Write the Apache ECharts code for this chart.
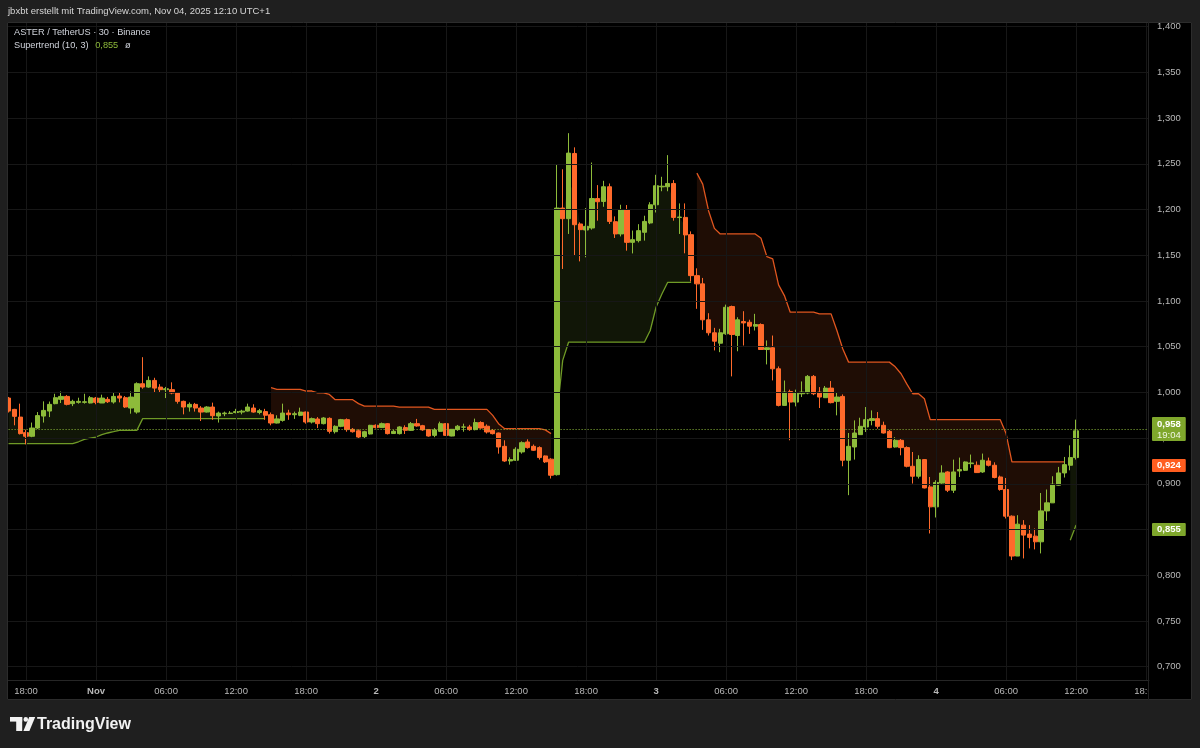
<!DOCTYPE html>
<html><head><meta charset="utf-8">
<script src="https://cdn.jsdelivr.net/npm/echarts@6/dist/echarts.min.js"></script>
<style>html,body{margin:0;padding:0;background:#1f1f1f}#c{width:1200px;height:748px}</style>
</head><body><div id="c"></div>
<script>
// ---------------- DATA ----------------
const startUTC = Date.UTC(2025, 9, 31, 16, 30); // first 30-min bar
const slotCount = 196; // bars incl. empty right margin
const openP = [
0.9938,0.9814,0.973,0.956,0.952,0.961,0.9741,0.9796,0.9877,0.9924,
0.9956,0.9877,0.9891,0.9891,0.9884,0.9938,0.9884,0.9924,0.9895,0.996,
0.9942,0.9829,0.9785,1.0095,1.0058,1.0131,1.0058,1.003,1.003,0.9993,
0.9902,0.984,0.9869,0.9829,0.9785,0.984,0.9742,0.9767,0.977,0.978,
0.9785,0.9796,0.9829,0.978,0.979,0.9756,0.9665,0.9694,0.9774,0.9756,
0.9749,0.9785,0.9676,0.9709,0.9658,0.9716,0.957,0.9629,0.9702,0.9596,
0.958,0.9516,0.9545,0.964,0.9615,0.9658,0.955,0.9549,0.9615,0.9585,
0.9658,0.9636,0.9593,0.953,0.9574,0.9658,0.9523,0.9593,0.962,0.9622,
0.9593,0.967,0.963,0.9585,0.9556,0.941,0.925,0.9258,0.9349,0.9458,
0.941,0.9396,0.9305,0.927,0.910,1.2016,1.190,1.2613,1.1842,1.1776,
1.1798,1.212,1.2088,1.2249,1.1867,1.1733,1.1995,1.1641,1.166,1.1751,
1.1853,1.2052,1.2248,1.2249,1.2285,1.1912,1.1914,1.1725,1.1277,1.1187,
1.0794,1.0652,1.0538,1.0641,1.0939,1.0622,1.0775,1.0767,1.0724,1.0742,
1.0469,1.0488,1.0258,0.9858,1.001,0.9894,0.9985,0.9993,1.0175,1.0003,
0.9942,1.0047,0.9902,0.9956,0.9258,0.9403,0.9538,0.9622,0.9694,0.9713,
0.964,0.9574,0.9403,0.9476,0.9396,0.9192,0.9083,0.9265,0.8966,0.8748,
0.9008,0.913,0.893,0.9141,0.9148,0.9221,0.9203,0.913,0.925,0.9203,
0.9075,0.8938,0.8646,0.821,0.8548,0.845,0.8428,0.8366,0.8704,0.8792,
0.8985,0.9119,0.9203,0.9287];
const closeP = [
0.9796,0.9738,0.9549,0.952,0.961,0.9746,0.9803,0.9869,0.9942,0.9956,
0.9869,0.9902,0.9902,0.9898,0.9942,0.9891,0.9938,0.9898,0.9956,0.9938,
0.984,0.9949,1.0095,1.0058,1.0131,1.0047,1.003,1.004,0.9993,0.9902,
0.984,0.9869,0.9829,0.9785,0.984,0.9745,0.9774,0.9774,0.9774,0.979,
0.9795,0.984,0.9785,0.980,0.975,0.9665,0.971,0.9774,0.9756,0.9767,
0.9785,0.9676,0.9713,0.9658,0.972,0.9574,0.9629,0.9702,0.9593,0.957,
0.9512,0.957,0.964,0.9615,0.9658,0.9549,0.9574,0.9622,0.9585,0.9658,
0.9633,0.959,0.9523,0.959,0.9658,0.953,0.9596,0.963,0.9622,0.9593,
0.967,0.961,0.9567,0.9549,0.9403,0.925,0.9265,0.9378,0.945,0.9396,
0.9367,0.9287,0.924,0.9094,1.2016,1.190,1.2617,1.1834,1.178,1.1816,
1.212,1.2085,1.2249,1.187,1.1733,1.1995,1.1641,1.167,1.1769,1.187,
1.2052,1.226,1.2255,1.2285,1.1914,1.1918,1.1722,1.1277,1.1187,1.0794,
1.0652,1.056,1.0652,1.0931,1.0633,1.0794,1.076,1.0724,1.0742,1.0469,
1.0488,1.0258,0.9858,1.0003,0.9894,0.9993,1.0003,1.0175,0.9985,0.9949,
1.0047,0.9888,0.9949,0.9258,0.941,0.9556,0.9629,0.9702,0.9713,0.9629,
0.9556,0.9396,0.9476,0.9396,0.9192,0.9083,0.9265,0.8955,0.8748,0.9015,
0.9119,0.893,0.913,0.9156,0.9239,0.9228,0.9123,0.9258,0.9203,0.9069,
0.8938,0.8646,0.821,0.8559,0.8439,0.8414,0.8366,0.8704,0.8792,0.8996,
0.9119,0.921,0.9287,0.958];
const lowP = [
0.978,0.964,0.954,0.9432,0.951,0.960,0.967,0.973,0.987,0.9884,
0.9858,0.985,0.9877,0.9877,0.988,0.987,0.9884,0.9884,0.9877,0.9891,
0.983,0.9767,0.9767,1.004,1.005,1.0003,1.000,0.9938,0.998,0.9877,
0.976,0.979,0.979,0.9687,0.978,0.970,0.967,0.974,0.9765,0.977,
0.976,0.979,0.9778,0.976,0.970,0.964,0.966,0.968,0.970,0.971,
0.974,0.9658,0.966,0.961,0.965,0.955,0.955,0.962,0.957,0.956,
0.950,0.950,0.954,0.9605,0.961,0.954,0.9545,0.954,0.9545,0.958,
0.9625,0.958,0.9516,0.951,0.9567,0.9523,0.952,0.958,0.957,0.958,
0.9585,0.9603,0.955,0.954,0.933,0.924,0.921,0.925,0.933,0.9385,
0.936,0.9265,0.9228,0.9058,0.909,1.135,1.1733,1.1496,1.1433,1.1478,
1.178,1.1878,1.203,1.1842,1.1689,1.1706,1.155,1.152,1.164,1.166,
1.184,1.1968,1.22,1.22,1.1878,1.1733,1.1521,1.1212,1.0914,1.0684,
1.0622,1.0459,1.044,1.063,1.0175,1.045,1.0513,1.064,1.0677,1.0465,
1.0306,1.0131,0.9847,0.9855,0.9476,0.9847,0.9949,0.998,0.997,0.9829,
0.994,0.988,0.9749,0.9192,0.8876,0.9265,0.9535,0.9567,0.964,0.9603,
0.955,0.939,0.9396,0.9312,0.918,0.9003,0.9058,0.895,0.8457,0.8632,
0.900,0.891,0.89,0.9075,0.914,0.9174,0.912,0.912,0.919,0.906,
0.8925,0.8621,0.8166,0.821,0.8184,0.8294,0.8283,0.8239,0.8595,0.879,
0.898,0.9069,0.9148,0.9265];
const highP = [
0.995,0.982,0.9877,0.9593,0.967,0.9785,0.9902,0.990,0.9985,1.001,
0.997,0.992,0.9942,0.9985,0.996,0.995,0.9975,0.995,0.9993,1.0003,
0.996,1.001,1.011,1.0385,1.0175,1.016,1.009,1.006,1.011,1.0,
0.991,0.989,0.9885,0.985,0.9849,0.9888,0.979,0.979,0.9795,0.982,
0.981,0.9877,0.987,0.982,0.982,0.978,0.975,0.9877,0.981,0.979,
0.9833,0.979,0.9725,0.973,0.973,0.9727,0.964,0.971,0.9715,0.961,
0.9596,0.958,0.9645,0.965,0.967,0.9665,0.959,0.963,0.964,0.9676,
0.971,0.9645,0.96,0.961,0.968,0.9665,0.960,0.9644,0.9658,0.9645,
0.9713,0.9684,0.965,0.96,0.956,0.9476,0.929,0.940,0.9465,0.9487,
0.943,0.941,0.931,0.928,1.249,1.244,1.2835,1.268,1.186,1.2016,
1.2514,1.2267,1.2314,1.2285,1.1925,1.2052,1.2049,1.177,1.184,1.1932,
1.208,1.238,1.2358,1.2595,1.2322,1.2067,1.2067,1.1761,1.1357,1.1252,
1.0866,1.0706,1.0695,1.096,1.0949,1.0822,1.0888,1.0795,1.0859,1.0755,
1.0568,1.0622,1.0284,1.013,1.003,1.003,1.012,1.019,1.019,1.0058,
1.007,1.0124,1.0003,0.9978,0.9556,0.9694,0.9723,0.984,0.9803,0.9785,
0.968,0.959,0.951,0.949,0.941,0.9348,0.9312,0.927,0.9075,0.9039,
0.9203,0.9138,0.9265,0.9287,0.9245,0.932,0.9245,0.9331,0.9287,0.9235,
0.909,0.9064,0.8655,0.8657,0.8603,0.8548,0.8512,0.89,0.8938,0.9083,
0.9185,0.9294,0.9421,0.9702];
// Supertrend (10, 3) value per bar
const stValue = [
0.944,0.944,0.944,0.944,0.944,0.944,0.944,0.944,0.944,0.944,
0.944,0.944,0.946,0.9487,0.950,0.9512,0.9538,0.9556,0.957,0.9585,
0.9585,0.9585,0.9585,0.9713,0.9713,0.9713,0.9713,0.9713,0.9713,0.9713,
0.9713,0.9713,0.9713,0.9713,0.9713,0.9713,0.9713,0.9713,0.9713,0.9713,
0.9713,0.9713,0.9713,0.9713,0.9713,1.0051,1.0033,1.0033,1.0033,1.0033,
1.0033,1.0015,1.0015,0.9996,0.9996,0.9978,0.992,0.992,0.992,0.992,
0.9877,0.985,0.985,0.985,0.985,0.985,0.985,0.984,0.984,0.984,
0.984,0.984,0.984,0.9814,0.9814,0.9814,0.9814,0.9814,0.9814,0.9814,
0.9814,0.9814,0.9814,0.9749,0.9658,0.9604,0.9604,0.9604,0.9604,0.9604,
0.9604,0.9604,0.959,0.9549,0.975,1.035,1.0549,1.0549,1.0549,1.0549,
1.0549,1.0549,1.0549,1.0549,1.0549,1.0549,1.0549,1.0549,1.0549,1.0549,
1.0677,1.0931,1.1077,1.1204,1.1204,1.1204,1.1204,1.1204,1.2398,1.2278,
1.1987,1.1794,1.1733,1.1733,1.1733,1.1733,1.1733,1.1733,1.1733,1.1685,
1.1485,1.146,1.1176,1.1059,1.0877,1.0877,1.0877,1.0877,1.0877,1.0859,
1.0859,1.0859,1.0677,1.0477,1.0331,1.0331,1.0331,1.0331,1.0331,1.0331,
1.0331,1.0331,1.028,1.0204,1.009,0.9985,0.9985,0.993,0.9702,0.9702,
0.9702,0.9702,0.9702,0.9702,0.9702,0.9702,0.9702,0.9702,0.9702,0.9702,
0.9702,0.955,0.924,0.924,0.924,0.924,0.924,0.924,0.924,0.924,
0.924,0.924,0.8384,0.855];
const upTrendRanges = [[0,44],[94,117],[182,183]];
const yTicks = [0.70,0.75,0.80,0.85,0.90,0.95,1.00,1.05,1.10,1.15,1.20,1.25,1.30,1.35,1.40];
const yMin = 0.68545, yMax = 1.4051;
const countdown = '19:04';
const monthNames = ['Jan','Feb','Mar','Apr','May','Jun','Jul','Aug','Sep','Oct','Nov','Dec'];

// ---------------- DERIVED ----------------
const GREEN = '#8dbb3a', ORANGE = '#ff6a2b';
const GREEN_LINE = '#6f9a26', ORANGE_LINE = '#e0561f';
const LBL = '#b8b8b8';
const FONT = '"Liberation Sans", Arial, sans-serif';
const pad = v => String(v).padStart(2,'0');
const cats = [];
for (let i = 0; i < slotCount; i++) {
  const d = new Date(startUTC + i * 1800000);
  cats.push(pad(d.getUTCMonth()+1) + '-' + pad(d.getUTCDate()) + ' ' + pad(d.getUTCHours()) + ':' + pad(d.getUTCMinutes()));
}
const isLabelSlot = idx => { const t = cats[idx].split(' ')[1]; const [h, m] = t.split(':').map(Number); return m === 0 && h % 6 === 0; };
const n = openP.length;
const isUp = new Array(n).fill(false);
upTrendRanges.forEach(([a,b]) => { for (let i = a; i <= b; i++) isUp[i] = true; });
const bodyMid = openP.map((o,i) => (o + closeP[i]) / 2);
const upLine = stValue.map((v,i) => isUp[i] ? v : null);
const dnLine = stValue.map((v,i) => !isUp[i] ? v : null);
const upDiff = stValue.map((v,i) => isUp[i] ? bodyMid[i] - v : null);
const dnBase = bodyMid.map((m,i) => !isUp[i] ? m : null);
const dnDiff = stValue.map((v,i) => !isUp[i] ? v - bodyMid[i] : null);
const candles = openP.map((o,i) => [o, closeP[i], lowP[i], highP[i]]);
const fmt = v => v.toFixed(3).replace('.', ',');
const lastClose = closeP[n-1];
const lastUp = upLine[n-1];
let lastDn = null; for (let i = n-1; i >= 0; i--) { if (dnLine[i] != null) { lastDn = dnLine[i]; break; } }

const gridLines = yTicks.map(v => ({ yAxis: v }))
  .concat(cats.map((c,i) => isLabelSlot(i) ? { xAxis: c } : null).filter(Boolean));

const boxLabel = (txt, bg) => ({ show: true, position: 'end', distance: 3, formatter: txt, color: '#fff', fontWeight: 'bold',
  fontSize: 9.5, fontFamily: FONT, backgroundColor: bg, padding: [2, 5, 1, 5], borderRadius: 1, opacity: 1 });

const chart = echarts.init(document.getElementById('c'), null, { renderer: 'canvas' });
chart.setOption({
  animation: false,
  backgroundColor: '#000000',
  textStyle: { fontFamily: FONT },
  grid: { left: 5.6, right: 51, top: 22, bottom: 68 },
  xAxis: {
    type: 'category', data: cats, boundaryGap: true,
    axisLine: { show: true, lineStyle: { color: '#262626' } },
    axisTick: { show: false }, splitLine: { show: false },
    axisLabel: {
      interval: (idx) => isLabelSlot(idx),
      color: LBL, fontSize: 9.5, fontFamily: FONT, margin: 6,
      formatter: (val) => {
        const [md, t] = val.split(' ');
        if (t === '00:00') {
          const [mo, dd] = md.split('-').map(Number);
          return '{b|' + (dd === 1 ? monthNames[mo-1] : dd) + '}';
        }
        return t;
      },
      rich: { b: { fontWeight: 'bold', color: LBL, fontSize: 9.5, fontFamily: FONT } }
    }
  },
  yAxis: {
    type: 'value', position: 'right', min: yMin, max: yMax, scale: true,
    axisLine: { show: false }, axisTick: { show: false }, splitLine: { show: false },
    axisLabel: { customValues: yTicks, formatter: v => fmt(v), color: LBL, fontSize: 9.5, fontFamily: FONT, margin: 8 }
  },
  series: [
    { name: 'upBase', type: 'line', data: upLine, stack: 'upF', symbol: 'none', z: 1,
      lineStyle: { opacity: 0 }, silent: true,
      markLine: { silent: true, symbol: ['none','none'], label: { show: false },
        lineStyle: { color: '#171717', width: 1, type: 'solid' }, emphasis: { disabled: true }, data: gridLines } },
    { name: 'upFill', type: 'line', data: upDiff, stack: 'upF', symbol: 'none', z: 2,
      lineStyle: { opacity: 0 }, areaStyle: { color: 'rgba(140,184,58,0.12)', opacity: 1 }, silent: true },
    { name: 'dnBase', type: 'line', data: dnBase, stack: 'dnF', symbol: 'none', z: 1,
      lineStyle: { opacity: 0 }, silent: true },
    { name: 'dnFill', type: 'line', data: dnDiff, stack: 'dnF', symbol: 'none', z: 2,
      lineStyle: { opacity: 0 }, areaStyle: { color: 'rgba(255,106,43,0.12)', opacity: 1 }, silent: true },
    { name: 'Up Trend', type: 'line', data: upLine, symbol: 'none', z: 3,
      lineStyle: { color: GREEN_LINE, width: 1.3 }, silent: true },
    { name: 'Down Trend', type: 'line', data: dnLine, symbol: 'none', z: 3,
      lineStyle: { color: ORANGE_LINE, width: 1.3 }, silent: true },
    { name: 'ASTER', type: 'candlestick', data: candles, barWidth: 4.8, z: 4,
      itemStyle: { color: GREEN, color0: ORANGE, borderColor: GREEN, borderColor0: ORANGE, borderWidth: 1 } },
    { name: 'marks', type: 'line', data: closeP, symbol: 'none', z: 6, clip: false,
      lineStyle: { opacity: 0 }, silent: true,
      markLine: { silent: true, symbol: ['none','none'], emphasis: { disabled: true },
        data: [
          { yAxis: lastDn, lineStyle: { color: 'rgba(0,0,0,0)', width: 0 }, label: boxLabel(fmt(lastDn), '#ff5d1f') },
          { yAxis: lastUp, lineStyle: { color: 'rgba(0,0,0,0)', width: 0 }, label: boxLabel(fmt(lastUp), '#7fa72c') },
          { yAxis: lastClose, lineStyle: { color: GREEN, width: 1, type: [1, 2] },
            label: { show: true, position: 'end', distance: 3, formatter: '{a|' + fmt(lastClose) + '}\n{c|' + countdown + '}',
              backgroundColor: '#7fa72c', padding: [2, 5, 1, 5], borderRadius: 1, opacity: 1,
              rich: { a: { color: '#fff', fontWeight: 'bold', fontSize: 9.5, lineHeight: 11, fontFamily: FONT },
                      c: { color: '#eef5e0', fontSize: 9.5, lineHeight: 10, fontFamily: FONT } } } }
        ] } }
  ],
  graphic: [
    { type: 'rect', z: 100, silent: true, shape: { x: 0, y: 0, width: 1200, height: 22 }, style: { fill: '#1f1f1f' } },
    { type: 'rect', z: 100, silent: true, shape: { x: 0, y: 700, width: 1200, height: 48 }, style: { fill: '#1f1f1f' } },
    { type: 'rect', z: 100, silent: true, shape: { x: 0, y: 0, width: 7, height: 748 }, style: { fill: '#1f1f1f' } },
    { type: 'rect', z: 100, silent: true, shape: { x: 1192, y: 0, width: 8, height: 748 }, style: { fill: '#1f1f1f' } },
    { type: 'rect', z: 100, silent: true, shape: { x: 1149, y: 681, width: 42.5, height: 18.5 }, style: { fill: '#000' } },
    { type: 'rect', z: 101, silent: true, shape: { x: 7.5, y: 22.5, width: 1184, height: 677 }, style: { fill: 'none', stroke: '#2c2c2c', lineWidth: 1 } },
    { type: 'line', z: 101, silent: true, shape: { x1: 1148.5, y1: 22, x2: 1148.5, y2: 700 }, style: { stroke: '#222222', lineWidth: 1 } },
    { type: 'text', z: 102, silent: true, x: 8, y: 11,
      style: { text: 'jbxbt erstellt mit TradingView.com, Nov 04, 2025 12:10 UTC+1', fill: '#d6d6d6', font: '9.5px ' + FONT, verticalAlign: 'middle' } },
    { type: 'text', z: 102, silent: true, x: 14, y: 32,
      style: { text: 'ASTER / TetherUS · 30 · Binance', fill: '#d1d4dc', font: '9.2px ' + FONT, verticalAlign: 'middle' } },
    { type: 'text', z: 102, silent: true, x: 14, y: 45,
      style: { text: '{a|Supertrend (10, 3)}  {g|' + fmt(lastUp) + '}  {a|ø}', verticalAlign: 'middle',
        rich: { a: { fill: '#d1d4dc', font: '9.2px ' + FONT }, g: { fill: '#8cb83a', font: '9.2px ' + FONT } } } },
    { type: 'rect', z: 102, silent: true, shape: { x: 10, y: 717, width: 12.2, height: 4.6 }, style: { fill: '#f2f2f2' } },
    { type: 'rect', z: 102, silent: true, shape: { x: 16.2, y: 717, width: 6, height: 14 }, style: { fill: '#f2f2f2' } },
    { type: 'circle', z: 102, silent: true, shape: { cx: 25.8, cy: 719.4, r: 2.3 }, style: { fill: '#f2f2f2' } },
    { type: 'polygon', z: 102, silent: true, shape: { points: [[23.4,731],[29.4,731],[35.2,717],[29.2,717]] }, style: { fill: '#f2f2f2' } },
    { type: 'text', z: 102, silent: true, x: 37, y: 724.5,
      style: { text: 'TradingView', fill: '#f2f2f2', font: 'bold 16px ' + FONT, verticalAlign: 'middle' } }
  ]
});
</script></body></html>
